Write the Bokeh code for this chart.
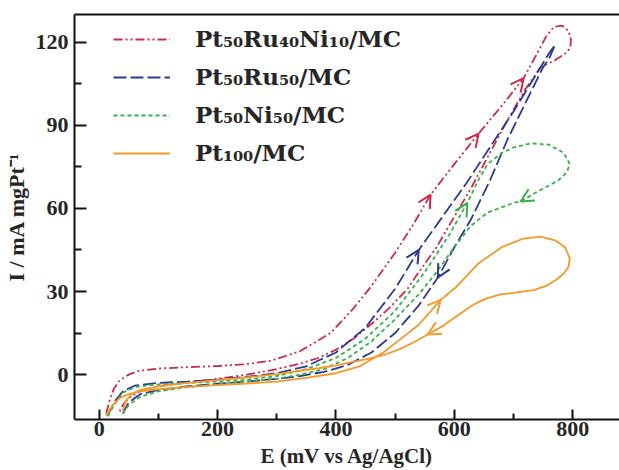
import numpy as np
from bokeh.plotting import figure
from bokeh.models import (LinearAxis, Legend, LegendItem, Arrow, OpenHead,
                          FixedTicker, Range1d)
from bokeh.embed import file_html
from bokeh.resources import INLINE

# ---- cyclic voltammograms: potential E (mV vs Ag/AgCl), current I (mA mgPt^-1)
# Pt50Ru40Ni10/MC
ptruni_fwd_e = [12, 18, 25, 35, 50, 65, 100, 150, 200, 250, 290, 340, 391, 430, 460,
                500, 530, 560, 600, 641, 680, 717, 740, 755, 768, 782, 793, 797]
ptruni_fwd_i = [-14, -9, -5, -2, 0, 1.3, 2.2, 2.7, 3.1, 3.8, 5, 8.5, 15, 24, 32,
                44, 54, 65, 76, 87, 97, 107, 116, 122, 125.5, 126, 124, 121]
ptruni_rev_e = [796, 788, 770, 746, 720, 690, 660, 630, 600, 570, 540, 521, 490, 464,
                430, 400, 370, 340, 300, 250, 200, 150, 100, 70, 50, 40, 33]
ptruni_rev_i = [118, 116, 113.5, 111, 103, 92, 80, 68, 57, 46, 37, 31, 24, 19,
                13, 9, 6, 4, 2, 0, -1.5, -2.8, -4.2, -5.8, -8.5, -11, -14]

# Pt50Ru50/MC
ptru_fwd_e = [14, 25, 40, 60, 100, 150, 200, 250, 300, 350, 400, 450, 500, 540,
              580, 620, 660, 700, 740, 760, 770]
ptru_fwd_i = [-15, -10, -6, -4, -3, -2.5, -1.8, -0.8, 0.5, 3, 8, 17, 31, 45,
              57, 69, 82, 95, 109, 116, 119]
ptru_rev_e = [770, 760, 750, 720, 690, 660, 628, 600, 572, 540, 500, 460, 420,
              380, 340, 300, 250, 200, 150, 100, 70, 50, 40]
ptru_rev_i = [119, 114, 111, 98, 85, 70, 56, 46, 35, 25, 15, 8, 3.5,
              1, -0.5, -1.5, -2.5, -3.3, -4.2, -5.5, -7, -10, -14]

# Pt50Ni50/MC
ptni_fwd_e = [15, 25, 40, 60, 100, 150, 200, 250, 300, 350, 400, 450, 500, 550,
              590, 622, 640, 656, 680, 700, 730, 760, 785, 795]
ptni_fwd_i = [-15, -11, -6.5, -4.5, -3.5, -3, -2.5, -1.8, -0.5, 2, 6, 13, 23, 37,
              50, 62, 70, 76, 80, 82, 83.5, 83, 80, 76]
ptni_rev_e = [795, 790, 775, 740, 712, 700, 656, 627, 600, 570, 540, 500, 460, 420,
              380, 340, 300, 250, 200, 150, 100, 70, 50, 40]
ptni_rev_i = [76, 73, 70, 66, 62.5, 62, 58.5, 53.5, 46, 37, 29, 20, 12, 6,
              2, 0, -1.5, -2.5, -3.5, -4.5, -6, -8, -11, -14]

# Pt100/MC
pt_fwd_e = [12, 18, 25, 35, 50, 70, 100, 150, 200, 250, 300, 350, 400, 440, 480,
            510, 540, 577, 605, 640, 680, 715, 745, 770, 787, 795]
pt_fwd_i = [-15, -12.5, -10.5, -8.5, -7, -6, -5.2, -4.4, -3.8, -3.2, -2.5, -1.2, 0.5,
            3, 8, 13, 18, 27, 32, 40, 46, 49, 49.8, 48.5, 46, 42]
pt_rev_e = [793, 785, 774, 755, 734, 700, 678, 655, 639, 620, 600, 580, 555, 530,
            509, 480, 450, 420, 400, 370, 340, 300, 250, 200, 150, 100, 70, 55, 45, 40]
pt_rev_i = [39, 36.5, 34.5, 32, 30.5, 29.5, 29, 27.5, 26, 23.5, 20.5, 17.5, 14.5, 11.5,
            9.3, 7, 5.5, 4.2, 3.3, 2.3, 1.4, 0.2, -1, -2, -3, -4.2, -5.5, -7, -9.5, -13]

# potentials where scan-direction arrows sit, per branch
ptruni_arrows = {"fwd": [560, 641, 717], "rev": []}
ptru_arrows = {"fwd": [540], "rev": [572]}
ptni_arrows = {"fwd": [622], "rev": [712]}
pt_arrows = {"fwd": [577], "rev": [555]}

labels = ["Pt₅₀Ru₄₀Ni₁₀/MC", "Pt₅₀Ru₅₀/MC", "Pt₅₀Ni₅₀/MC", "Pt₁₀₀/MC"]
x_ticks = [0, 200, 400, 600, 800]
y_ticks = [0, 30, 60, 90, 120]
x_title = "E (mV vs Ag/AgCl)"
y_title = "I / mA mgPt⁻¹"

series = [
    (ptruni_fwd_e, ptruni_fwd_i, ptruni_rev_e, ptruni_rev_i, ptruni_arrows,
     "#cc2a4a", "9 3 2 3 2 3"),
    (ptru_fwd_e, ptru_fwd_i, ptru_rev_e, ptru_rev_i, ptru_arrows,
     "#2e3a8f", "13 4"),
    (ptni_fwd_e, ptni_fwd_i, ptni_rev_e, ptni_rev_i, ptni_arrows,
     "#3cae4c", "4 3"),
    (pt_fwd_e, pt_fwd_i, pt_rev_e, pt_rev_i, pt_arrows,
     "#f39a2a", "solid"),
]

FONT = "Liberation Serif"
TEXT_COLOR = "#262626"

p = figure(width=619, height=470, output_backend="svg", toolbar_location=None,
           x_range=Range1d(-41.6, 879), y_range=Range1d(-16.2, 130),
           x_axis_type=None, y_axis_type=None)
p.min_border_left = 74
p.min_border_right = 0
p.min_border_top = 14
p.min_border_bottom = 49
p.outline_line_color = None
p.xgrid.visible = False
p.ygrid.visible = False
p.background_fill_color = "white"
p.border_fill_color = "white"


def style_axis(ax, tick_len, minor_len):
    ax.axis_line_width = 2
    ax.axis_line_color = "#111111"
    ax.major_tick_line_width = 2
    ax.minor_tick_line_width = 2
    ax.major_tick_line_color = "#111111"
    ax.minor_tick_line_color = "#111111"
    ax.major_tick_in = tick_len
    ax.major_tick_out = 0
    ax.minor_tick_in = minor_len
    ax.minor_tick_out = 0
    ax.major_label_text_font = FONT
    ax.major_label_text_font_style = "bold"
    ax.major_label_text_font_size = "22px"
    ax.major_label_text_color = TEXT_COLOR
    ax.axis_label_text_font = FONT
    ax.axis_label_text_font_style = "bold"
    ax.axis_label_text_font_size = "21px"
    ax.axis_label_text_color = TEXT_COLOR


xaxis = LinearAxis(ticker=FixedTicker(ticks=x_ticks,
                                      minor_ticks=[100, 300, 500, 700]),
                   axis_label=x_title)
style_axis(xaxis, 10, 6)
xaxis.major_label_standoff = 2
xaxis.axis_label_standoff = 5
p.add_layout(xaxis, "below")

yaxis = LinearAxis(ticker=FixedTicker(ticks=y_ticks,
                                      minor_ticks=[15, 45, 75, 105]),
                   axis_label=y_title)
style_axis(yaxis, 12, 7)
yaxis.axis_label_text_font_size = "22px"
yaxis.major_label_standoff = 6
yaxis.axis_label_standoff = 4
p.add_layout(yaxis, "left")

top = LinearAxis(ticker=FixedTicker(ticks=[]))
style_axis(top, 0, 0)
top.major_label_text_font_size = "0px"
top.major_label_standoff = 0
p.add_layout(top, "above")

items = []
for (fe, fi, re_, ri, arrows, color, dash), label in zip(series, labels):
    e = list(fe) + list(re_)
    i = list(fi) + list(ri)
    r = p.line(e, i, line_color=color, line_width=1.8, line_dash=dash)
    items.append(LegendItem(label=label, renderers=[r]))
    for branch, be, bi in (("fwd", fe, fi), ("rev", re_, ri)):
        be_arr = np.array(be, dtype=float)
        bi_arr = np.array(bi, dtype=float)
        order = np.argsort(be_arr)
        for pos in arrows[branch]:
            step = 6 if branch == "fwd" else -6
            y0 = np.interp(pos - step, be_arr[order], bi_arr[order])
            y1 = np.interp(pos, be_arr[order], bi_arr[order])
            p.add_layout(Arrow(x_start=pos - step, y_start=y0, x_end=pos, y_end=y1,
                               line_alpha=0,
                               end=OpenHead(size=13, line_color=color,
                                            line_width=2)))

legend = Legend(items=items, location=(39, 253))
legend.border_line_alpha = 0
legend.background_fill_alpha = 0
legend.padding = 0
legend.margin = 0
legend.spacing = 11
legend.glyph_width = 57
legend.glyph_height = 20
legend.label_standoff = 25
legend.label_text_font = "DejaVu Serif"
legend.label_text_font_style = "bold"
legend.label_text_font_size = "23px"
legend.label_text_color = TEXT_COLOR
p.add_layout(legend)

open("out.html", "w").write(file_html(p, INLINE))
